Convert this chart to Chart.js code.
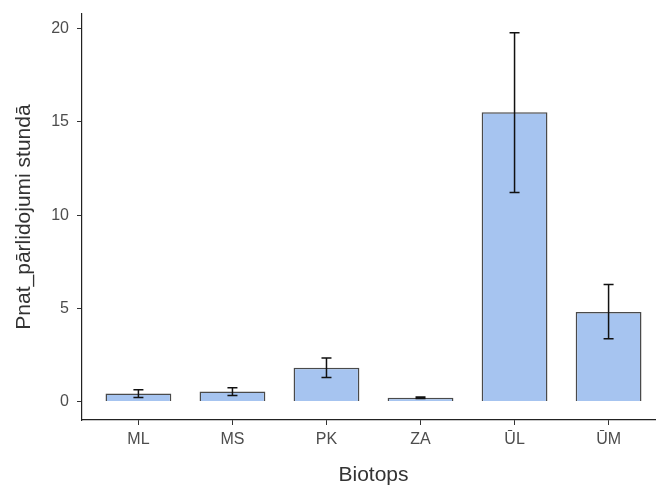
<!DOCTYPE html>
<html>
<head>
<meta charset="utf-8">
<script src="https://cdn.jsdelivr.net/npm/chart.js@4/dist/chart.umd.min.js"></script>
<style>
  html, body { margin: 0; padding: 0; background: #fff; overflow: hidden; }
  #wrap { width: 672px; height: 486px; }
</style>
</head>
<body>
<div id="wrap"><canvas id="chart"></canvas></div>
<script>
// biotope means with error bar bounds
const biotopes = ['ML', 'MS', 'PK', 'ZA', 'ŪL', 'ŪM'];
const means = [0.43, 0.54, 1.81, 0.2, 15.52, 4.81];
const errLow = [0.22, 0.32, 1.29, 0.16, 11.21, 3.37];
const errHigh = [0.63, 0.74, 2.33, 0.24, 19.79, 6.28];
const yTicks = [0, 5, 10, 15, 20];

const FONT = '"Liberation Sans", Arial, sans-serif';

// whiskers drawn on top of the bars
const errorBars = {
  id: 'errorBars',
  afterDatasetsDraw(chart) {
    const { ctx, scales: { x, y } } = chart;
    ctx.save();
    ctx.strokeStyle = '#111';
    ctx.lineWidth = 1.5;
    biotopes.forEach((b, i) => {
      const px = x.getPixelForValue(i + 1);
      const lo = y.getPixelForValue(errLow[i]);
      const hi = y.getPixelForValue(errHigh[i]);
      const cap = 5;
      ctx.beginPath();
      ctx.moveTo(px, lo); ctx.lineTo(px, hi);
      ctx.moveTo(px - cap, lo); ctx.lineTo(px + cap, lo);
      ctx.moveTo(px - cap, hi); ctx.lineTo(px + cap, hi);
      ctx.stroke();
    });
    ctx.restore();
  }
};

new Chart(document.getElementById('chart'), {
  type: 'bar',
  data: {
    datasets: [{
      data: means.map((v, i) => ({ x: i + 1, y: v })),
      backgroundColor: '#a6c4f0',
      borderColor: '#4a4a4a',
      borderWidth: 1.5,
      categoryPercentage: 1,
      barPercentage: 0.7,
    }]
  },
  options: {
    responsive: true,
    maintainAspectRatio: false,
    animation: false,
    layout: { padding: { top: 14, right: 7, left: 0, bottom: 0 } },
    plugins: { legend: { display: false }, tooltip: { enabled: false } },
    scales: {
      x: {
        type: 'linear',
        offset: false,
        min: 0.4,
        max: 6.6,
        afterBuildTicks: s => { s.ticks = biotopes.map((b, i) => ({ value: i + 1 })); },
        afterFit: s => { s.height = 66; s.paddingLeft = 0; s.paddingRight = 0; },
        ticks: {
          callback: v => biotopes[v - 1],
          color: '#4d4d4d',
          font: { family: FONT, size: 16 },
          padding: 5,
          autoSkip: false,
          maxRotation: 0,
        },
        grid: { offset: false, drawOnChartArea: false, drawTicks: true, tickLength: 5, tickColor: '#333', tickWidth: 1 },
        border: { color: '#222', width: 1.2 },
        title: {
          display: true,
          text: 'Biotops',
          color: '#333',
          font: { family: FONT, size: 21, lineHeight: 1 },
          padding: { top: 0, bottom: 0 },
        },
      },
      y: {
        min: -0.99,
        max: 20.79,
        afterBuildTicks: s => { s.ticks = yTicks.map(v => ({ value: v })); },
        afterFit: s => { s.width = 82; s.paddingTop = 0; s.paddingBottom = 0; },
        ticks: {
          color: '#4d4d4d',
          font: { family: FONT, size: 16 },
          padding: 8,
        },
        grid: { drawOnChartArea: false, drawTicks: true, tickLength: 5, tickColor: '#333', tickWidth: 1 },
        border: { color: '#222', width: 1.2 },
        title: {
          display: true,
          text: 'Pnat_pārlidojumi stundā',
          color: '#333',
          font: { family: FONT, size: 21, lineHeight: 1 },
          padding: { top: 14, bottom: 0 },
        },
      },
    },
  },
  plugins: [errorBars],
});
</script>
</body>
</html>
